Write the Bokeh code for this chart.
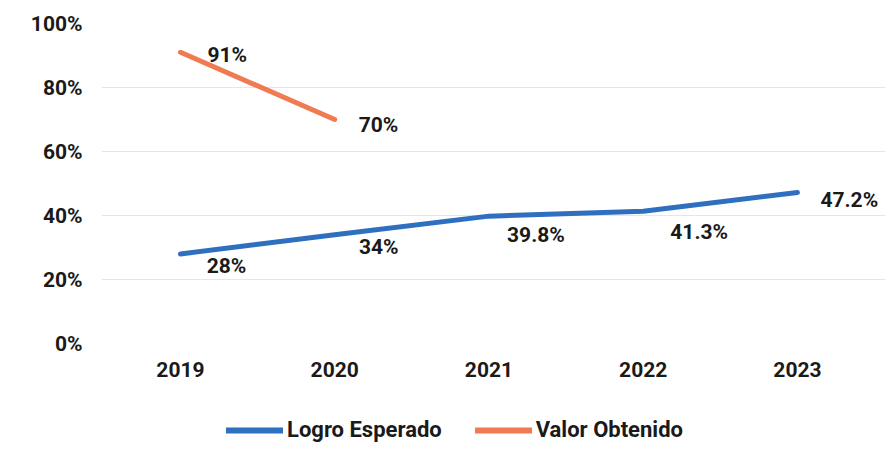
from bokeh.plotting import figure
from bokeh.layouts import column
from bokeh.models import ColumnDataSource, Range1d, FixedTicker, Legend, LegendItem
from bokeh.core.properties import value
from bokeh.embed import file_html
from bokeh.resources import INLINE

years = ["2019", "2020", "2021", "2022", "2023"]
logro = [28, 34, 39.8, 41.3, 47.2]
logro_labels = ["28%", "34%", "39.8%", "41.3%", "47.2%"]
obtenido_years = ["2019", "2020"]
obtenido = [91, 70]
obtenido_labels = ["91%", "70%"]
y_ticks = [0, 20, 40, 60, 80, 100]
series_names = ["Logro Esperado", "Valor Obtenido"]

BLUE = "#2F6FBF"
ORANGE = "#F07B52"
FONT = "Roboto"
FS = "21px"
TXT = "#1a1a1a"

xi = {y: i for i, y in enumerate(years)}

p = figure(width=885, height=392, output_backend="svg", toolbar_location=None,
           x_range=Range1d(-0.512, 4.571), y_range=Range1d(0, 100),
           min_border_left=101, min_border_right=0, min_border_top=23, min_border_bottom=49)
p.outline_line_color = None
p.background_fill_color = "white"
p.border_fill_color = "white"

src_l = ColumnDataSource(dict(x=[xi[y] for y in years], y=logro, t=logro_labels,
                              xo=[46, 44, 47, 56, 23], yo=[12, 12, 19, 21, 8],
                              al=["center", "center", "center", "center", "left"]))
src_o = ColumnDataSource(dict(x=[xi[y] for y in obtenido_years], y=obtenido, t=obtenido_labels,
                              xo=[27, 24], yo=[3, 5]))

p.line("x", "y", source=src_l, line_color=BLUE, line_width=5, line_cap="round")
p.line("x", "y", source=src_o, line_color=ORANGE, line_width=5, line_cap="round")

p.text("x", "y", text="t", source=src_l, x_offset="xo", y_offset="yo", text_align="al",
       text_baseline="middle", text_font=value(FONT), text_font_style="bold",
       text_font_size=FS, text_color=TXT)
p.text("x", "y", text="t", source=src_o, x_offset="xo", y_offset="yo", text_align="left",
       text_baseline="middle", text_font=value(FONT), text_font_style="bold",
       text_font_size=FS, text_color=TXT)

p.xaxis.ticker = FixedTicker(ticks=list(range(len(years))))
p.xaxis.major_label_overrides = {i: y for i, y in enumerate(years)}
p.yaxis.ticker = FixedTicker(ticks=y_ticks)
p.yaxis.major_label_overrides = {t: f"{t}%" for t in y_ticks}
for ax in (p.xaxis, p.yaxis):
    ax.axis_line_color = None
    ax.major_tick_line_color = None
    ax.minor_tick_line_color = None
    ax.major_tick_out = 0
    ax.major_tick_in = 0
    ax.major_label_text_font = FONT
    ax.major_label_text_font_style = "bold"
    ax.major_label_text_font_size = FS
    ax.major_label_text_color = TXT
p.xaxis.major_label_standoff = 18
p.yaxis.major_label_standoff = 19

p.xgrid.grid_line_color = None
p.ygrid.grid_line_color = "#e6e6e6"
p.ygrid.grid_line_width = 1

# legend strip below the chart (series drawn outside its view, only the keys show)
leg = figure(width=885, height=76, output_backend="svg", toolbar_location=None,
             x_range=Range1d(0, 1), y_range=Range1d(1000, 1001), min_border=0)
leg.outline_line_color = None
leg.axis.visible = False
leg.grid.visible = False
k1 = leg.line("x", "y", source=src_l, line_color=BLUE, line_width=6, line_cap="round")
k2 = leg.line("x", "y", source=src_o, line_color=ORANGE, line_width=6, line_cap="round")
legend = Legend(items=[LegendItem(label=series_names[0], renderers=[k1]),
                       LegendItem(label=series_names[1], renderers=[k2])],
                orientation="horizontal", location=(125, 26),
                glyph_width=57, glyph_height=20, label_standoff=4, spacing=33,
                padding=0, margin=0, border_line_color=None, background_fill_alpha=0,
                label_text_font=FONT, label_text_font_style="bold",
                label_text_font_size="22px", label_text_color=TXT)
leg.add_layout(legend)

layout = column(p, leg, spacing=0)
open("out.html", "w").write(file_html(layout, INLINE))
